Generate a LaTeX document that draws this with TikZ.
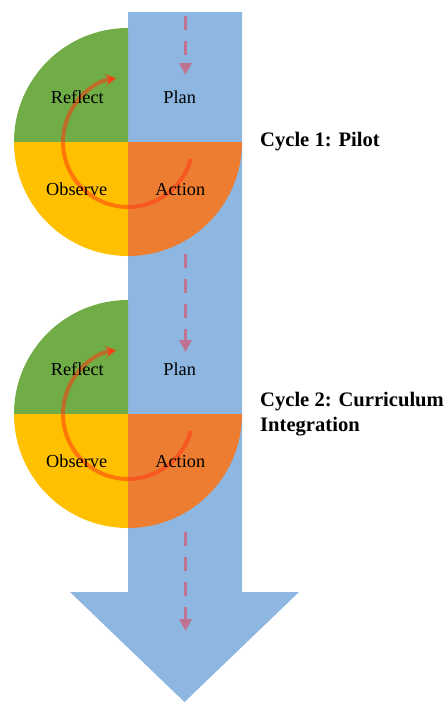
\documentclass[tikz,border=0pt]{standalone}
\usepackage{fontspec}
\setmainfont{Liberation Serif}
\usetikzlibrary{arrows.meta}
\definecolor{shaftblue}{HTML}{8DB7E1}
\definecolor{qgreen}{HTML}{70AD47}
\definecolor{qyellow}{HTML}{FFC000}
\definecolor{qorange}{HTML}{ED7D31}
\definecolor{dashpink}{HTML}{BF7390}
\definecolor{cyclered}{HTML}{FF3A12}
\tikzset{
  lbl/.style={anchor=base,inner sep=0pt,font=\fontsize{18.3}{21}\selectfont},
  cyc/.style={anchor=base west,inner sep=0pt,font=\fontsize{20.6}{25}\selectfont\bfseries},
  flowarrow/.style={draw=dashpink,line width=3.5pt,dash pattern=on 14pt off 11pt,-{Triangle[length=12pt,width=12pt]}},
  cyclearrow/.style={draw=cyclered,draw opacity=0.55,line width=4pt,-{Stealth[length=11pt,width=12pt,inset=3pt]}},
}
\begin{document}
\begin{tikzpicture}[x=1pt,y=1pt]
\useasboundingbox (0,0) rectangle (446,-702);
% big arrow
\fill[shaftblue] (128,-12) -- (242,-12) -- (242,-592) -- (299,-592) -- (184.5,-702) -- (70,-592) -- (128,-592) -- cycle;
\foreach \dy/\n in {0/1,272/2}{
  \coordinate (c\n) at (128,-142-\dy);
  \fill[qgreen] (c\n) -- ++(180:114) arc[start angle=180,end angle=90,radius=114] -- cycle;
  \fill[qyellow] (c\n) -- ++(180:114) arc[start angle=180,end angle=270,radius=114] -- cycle;
  \fill[qorange] (c\n) -- ++(270:114) arc[start angle=270,end angle=360,radius=114] -- cycle;
  \draw[cyclearrow] (c\n) ++(-15:65) arc[start angle=-15,end angle=-260,radius=65];
  \node[lbl] (reflect\n) at (77.3,-103.3-\dy) {Reflect};
  \node[lbl] (plan\n) at (179.7,-103.3-\dy) {Plan};
  \node[lbl] (observe\n) at (76.7,-195-\dy) {Observe};
  \node[lbl] (action\n) at (180.3,-195-\dy) {Action};
}
% dashed flow arrows
\coordinate (f1s) at (185.5,-16);
\coordinate (f1e) at (185.5,-75);
\coordinate (f2s) at (185.5,-254);
\coordinate (f2e) at (185.5,-352);
\coordinate (f3s) at (185.5,-532);
\coordinate (f3e) at (185.5,-631);
\draw[flowarrow] (f1s) -- (f1e);
\draw[flowarrow] (f2s) -- (f2e);
\draw[flowarrow] (f3s) -- (f3e);
% cycle labels
\node[cyc] (cycle1) at (260,-146) {Cycle 1: Pilot};
\node[cyc] (cycle2a) at (260,-406.7) {Cycle 2: Curriculum};
\node[cyc] (cycle2b) at (260,-431.7) {Integration};
\end{tikzpicture}
\end{document}
